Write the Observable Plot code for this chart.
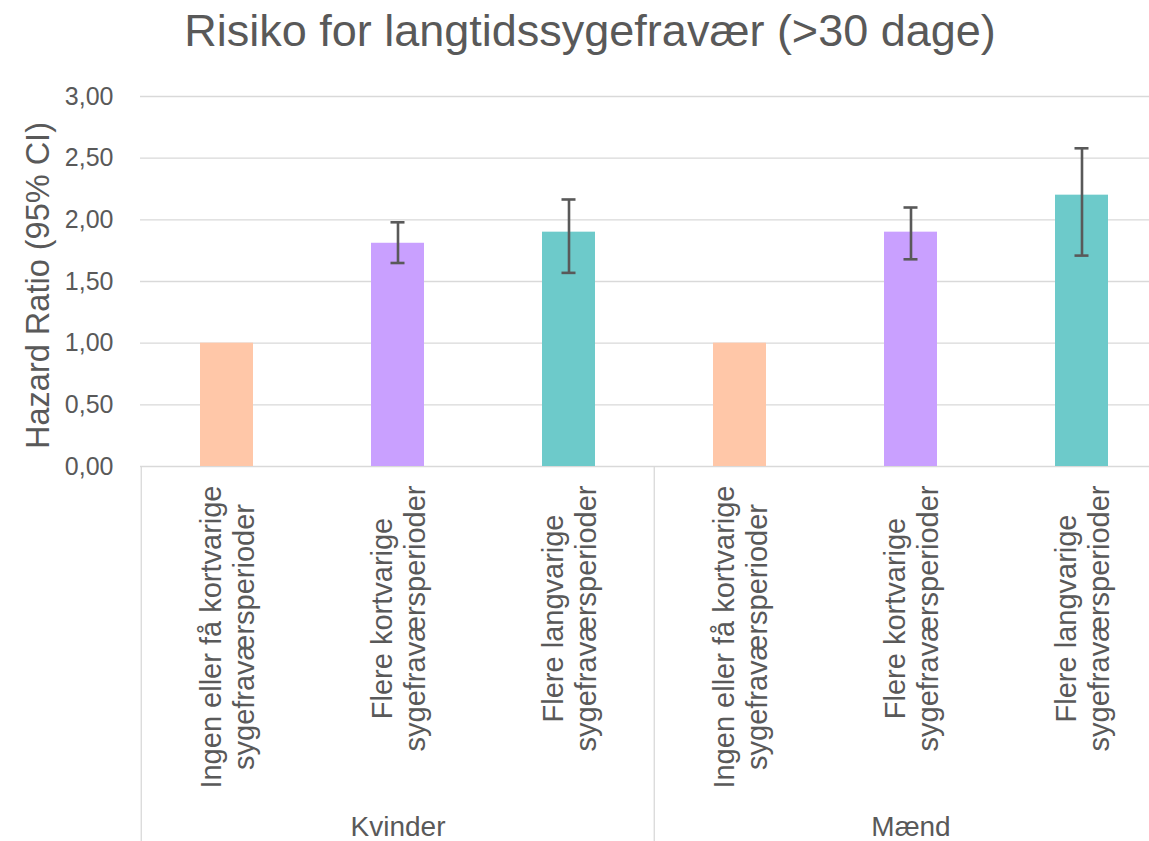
<!DOCTYPE html>
<html><head><meta charset="utf-8">
<script src="https://cdn.jsdelivr.net/npm/d3@7"></script>
<script src="https://cdn.jsdelivr.net/npm/@observablehq/plot@0.6"></script>
<style>
html,body{margin:0;padding:0;background:#fff;overflow:hidden;width:1149px;height:841px}
#title{width:1149px;height:70px;box-sizing:border-box;padding-top:8px;padding-left:31px;text-align:center;font:45px/45px "Liberation Sans",Arial,sans-serif;color:#595959;white-space:nowrap}
#chart svg{overflow:hidden;display:block}
</style></head><body>
<div id="title">Risiko for langtidssygefravær (&gt;30 dage)</div>
<div id="chart"></div>
<script>
// ---- data ----
const groups = ["Kvinder", "Mænd"];
const categories = [
  "Ingen eller få kortvarige\nsygefraværsperioder",
  "Flere kortvarige\nsygefraværsperioder",
  "Flere langvarige\nsygefraværsperioder"
];
const hazardKvinder = [1.00, 1.81, 1.90];
const hazardMaend   = [1.00, 1.90, 2.20];
const ciLowKvinder  = [null, 1.65, 1.57];
const ciHighKvinder = [null, 1.98, 2.165];
const ciLowMaend    = [null, 1.68, 1.71];
const ciHighMaend   = [null, 2.10, 2.58];
const yTicks = [0, 0.5, 1, 1.5, 2, 2.5, 3];
const colors = ["#FFC7A8", "#C9A0FF", "#6DCACA"];

// ---- table ----
const hazard = [hazardKvinder, hazardMaend];
const ciLow = [ciLowKvinder, ciLowMaend];
const ciHigh = [ciHighKvinder, ciHighMaend];
const rows = [];
groups.forEach((g, gi) => categories.forEach((c, ci) => rows.push({
  key: g + "|" + ci, group: g, ci, hr: hazard[gi][ci], lo: ciLow[gi][ci], hi: ciHigh[gi][ci]
})));
const keys = rows.map(d => d.key);
const errRows = rows.filter(d => d.lo != null);

// ---- layout ----
const width = 1149, height = 771;
const marginLeft = 140, marginRight = -20, marginTop = 26, marginBottom = 375;
const step = (width - marginLeft - marginRight) / keys.length;
const plotH = height - marginTop - marginBottom;
const textColor = "#595959";
const lineColor = "#d9d9d9";

const plot = Plot.plot({
  width, height, marginLeft, marginRight, marginTop, marginBottom,
  style: {fontFamily: '"Liberation Sans", Arial, sans-serif', background: "white", overflow: "hidden"},
  x: {type: "band", domain: keys, paddingInner: 0.69, paddingOuter: 0.345, align: 0.5, axis: null},
  y: {domain: [0, 3]},
  color: {type: "identity"},
  marks: [
    Plot.gridY(yTicks, {stroke: lineColor, strokeOpacity: 1, strokeWidth: 1.3}),
    Plot.ruleX(groups.map(g => g + "|0"), {x: d => d, dx: -step / 2, insetTop: plotH, insetBottom: -marginBottom, stroke: lineColor, strokeWidth: 1.3}),
    Plot.ruleX([groups[groups.length - 1] + "|" + (categories.length - 1)], {x: d => d, dx: step / 2, insetTop: plotH, insetBottom: -marginBottom, stroke: lineColor, strokeWidth: 1.3}),
    Plot.barY(rows, {x: "key", y: "hr", fill: d => colors[d.ci]}),
    Plot.ruleX(errRows, {x: "key", y1: "lo", y2: "hi", stroke: "#595959", strokeWidth: 2.6}),
    Plot.tickY(errRows, {x: "key", y: "lo", insetLeft: 19.5, insetRight: 19.5, stroke: "#595959", strokeWidth: 2.6}),
    Plot.tickY(errRows, {x: "key", y: "hi", insetLeft: 19.5, insetRight: 19.5, stroke: "#595959", strokeWidth: 2.6}),
    Plot.axisY(yTicks, {tickSize: 0, tickPadding: 27, tickFormat: d => d.toFixed(2).replace(".", ","), fontSize: 25, color: textColor, label: null}),
    Plot.text(["Hazard Ratio (95% CI)"], {frameAnchor: "left", rotate: -90, dx: -102, dy: 4, fontSize: 32.5, fill: textColor, textAnchor: "middle", lineAnchor: "middle"}),
    Plot.text(rows, {x: "key", text: d => categories[d.ci], frameAnchor: "bottom", dy: 19, rotate: -90, textAnchor: "middle", lineAnchor: "middle", fontSize: 29, lineHeight: 1.12, fill: textColor}),
    Plot.text(groups, {x: d => d + "|1", text: d => d, frameAnchor: "bottom", dy: 369, fontSize: 28, fill: textColor, lineAnchor: "bottom"})
  ]
});
document.getElementById("chart").appendChild(plot);

// shift rotated category labels so their longest line starts just below the axis
plot.querySelectorAll("text").forEach(t => {
  if (!t.textContent.includes("sygefravær")) return;
  const spans = t.querySelectorAll("tspan");
  let maxLen = 0;
  if (spans.length) spans.forEach(s => { maxLen = Math.max(maxLen, s.getComputedTextLength()); });
  else maxLen = t.getComputedTextLength();
  const tr = t.getAttribute("transform") || "";
  const m = tr.match(/translate\(\s*([-\d.e]+)[,\s]+([-\d.e]+)\s*\)/);
  if (m) {
    const x = +m[1], y = +m[2];
    t.setAttribute("transform", tr.replace(m[0], `translate(${x},${y + maxLen / 2})`));
  }
});
</script>
</body></html>
